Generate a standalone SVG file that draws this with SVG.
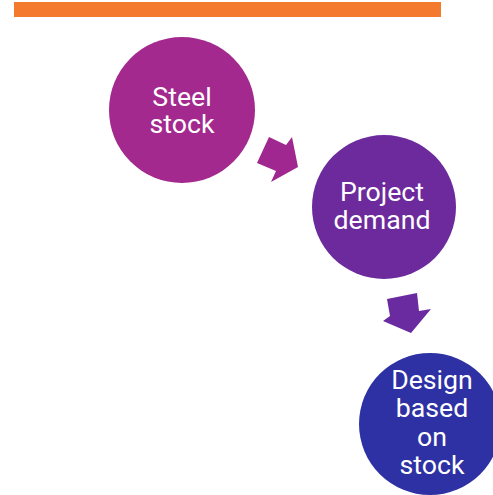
<svg xmlns="http://www.w3.org/2000/svg" width="493" height="495" viewBox="0 0 493 495">
<style>
.lbl{font-family:Roboto,"Noto Sans",sans-serif;font-size:26.7px;fill:#ffffff;text-anchor:middle}
</style>
<rect x="0" y="0" width="493" height="495" fill="#ffffff"/>
<rect id="bar" x="14" y="2" width="427" height="15" fill="#f47a2e"/>
<g id="connectors">
<polygon points="269,137 286,145 292,137 298,167 271,182 276,171 257,163" fill="#a0278f"/>
<polygon points="387,299 417,293 419,311 431,309 411,333 383,321 390,316" fill="#6a2ba0"/>
</g>
<g id="n1">
<circle cx="182" cy="110" r="73" fill="#a3298e"/>
<text class="lbl" x="182" y="106">Steel</text>
<text class="lbl" x="182" y="133">stock</text>
</g>
<g id="n2">
<circle cx="384" cy="207" r="72" fill="#6c2a9c"/>
<text class="lbl" x="382" y="201">Project</text>
<text class="lbl" x="382" y="229">demand</text>
</g>
<g id="n3">
<circle cx="430" cy="424" r="71" fill="#2e31a4"/>
<text class="lbl" x="432" y="389">Design</text>
<text class="lbl" x="432" y="417">based</text>
<text class="lbl" x="432" y="446">on</text>
<text class="lbl" x="432" y="474">stock</text>
</g>
</svg>
